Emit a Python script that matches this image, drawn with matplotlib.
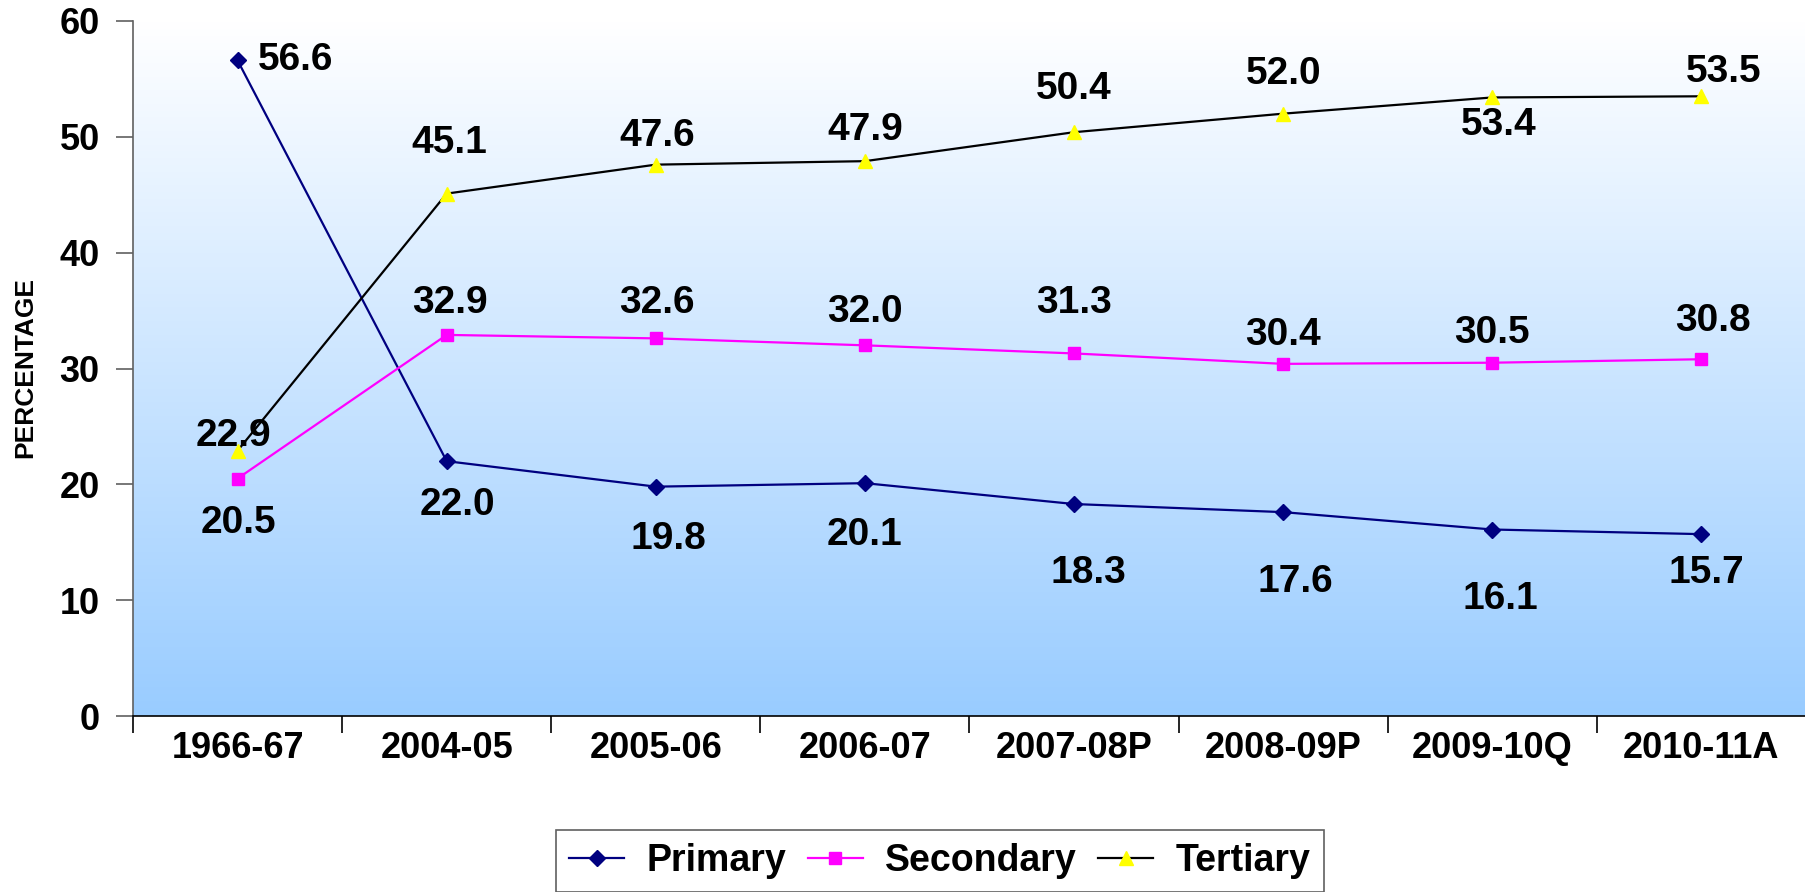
import matplotlib
matplotlib.use("Agg")
import matplotlib.pyplot as plt
import numpy as np
from matplotlib.colors import LinearSegmentedColormap

plt.rcParams["font.family"] = ["Liberation Sans", "DejaVu Sans"]
plt.rcParams["font.weight"] = "bold"

years = ["1966-67", "2004-05", "2005-06", "2006-07",
         "2007-08P", "2008-09P", "2009-10Q", "2010-11A"]
primary = [56.6, 22.0, 19.8, 20.1, 18.3, 17.6, 16.1, 15.7]
secondary = [20.5, 32.9, 32.6, 32.0, 31.3, 30.4, 30.5, 30.8]
tertiary = [22.9, 45.1, 47.6, 47.9, 50.4, 52.0, 53.4, 53.5]

# label offsets in pixels (dx, dy), dy positive = up
primary_offsets = [(58, 0), (11, -44), (13, -52), (0, -52),
                   (14, -69), (12, -70), (8, -69), (5, -39)]
secondary_offsets = [(1, -44), (3, 32), (1, 35), (0, 33),
                     (0, 50), (0, 29), (0, 30), (12, 38)]
tertiary_offsets = [(-4, 15), (3, 51), (1, 29), (0, 31),
                    (0, 43), (0, 40), (6, -28), (22, 24)]

figure = plt.figure(figsize=(18.06, 8.92), dpi=100)
axis = figure.add_axes([133 / 1806, 1 - 716 / 892, 1 - 133 / 1806, (716 - 21) / 892])

x = np.arange(len(years))

# background gradient, white at top to light blue at bottom
cmap = LinearSegmentedColormap.from_list("bg", ["#ffffff", "#99ccff"])
gradient = np.linspace(1, 0, 256).reshape(-1, 1)
axis.imshow(gradient, cmap=cmap, aspect="auto", extent=(-0.5, 7.5, 0, 60),
            origin="lower", zorder=0, interpolation="bilinear")

axis.plot(x, primary, color="#000080", linewidth=1.6, marker="D",
          markersize=8.5, label="Primary", zorder=3)
axis.plot(x, secondary, color="#ff00ff", linewidth=1.6, marker="s",
          markersize=9, label="Secondary", zorder=3)
axis.plot(x, tertiary, color="black", linewidth=1.6, marker="^",
          markersize=10, markerfacecolor="#ffff00", markeredgecolor="#ffff00",
          label="Tertiary", zorder=3)

for values, offsets in [(primary, primary_offsets),
                        (secondary, secondary_offsets),
                        (tertiary, tertiary_offsets)]:
    for i, (v, off) in enumerate(zip(values, offsets)):
        axis.annotate("{:.1f}".format(v), xy=(i, v), xytext=off,
                      textcoords="offset pixels", ha="center", va="center",
                      fontsize=28, fontweight="bold", zorder=5,
                      annotation_clip=False)

axis.set_xlim(-0.5, 7.5)
axis.set_ylim(0, 60)
axis.set_yticks(np.arange(0, 61, 10))
axis.set_xticks(x)
axis.set_xticklabels(years)
axis.set_xticks(np.arange(-0.5, 7.6, 1), minor=True)
axis.tick_params(axis="x", which="major", length=0, pad=11, labelsize=26)
axis.tick_params(axis="x", which="minor", length=12, width=1.2, color="black",
                 direction="out")
axis.tick_params(axis="y", length=12, width=1.2, color="#606060", pad=12,
                 labelsize=26)
for lbl in axis.get_xticklabels() + axis.get_yticklabels():
    lbl.set_fontweight("bold")

axis.spines["top"].set_visible(False)
axis.spines["right"].set_visible(False)
axis.spines["left"].set_color("#606060")
axis.spines["left"].set_linewidth(1.2)
axis.spines["bottom"].set_color("black")
axis.spines["bottom"].set_linewidth(1.2)

figure.text(25 / 1806, 1 - 367 / 892, "PERCENTAGE", rotation=90,
            ha="center", va="center", fontsize=19, fontweight="bold")

legend = figure.legend(loc="lower center", bbox_to_anchor=(940 / 1806, 0.0),
                       ncol=3, fontsize=27, frameon=True, fancybox=False,
                       borderaxespad=0, handlelength=1.47, columnspacing=0.56,
                       handletextpad=0.6, borderpad=0.35)
legend.get_frame().set_edgecolor("#606060")
legend.get_frame().set_linewidth(1.2)
legend.get_frame().set_alpha(1)
for text in legend.get_texts():
    text.set_fontweight("bold")

plt.savefig("out.png", dpi=100)
